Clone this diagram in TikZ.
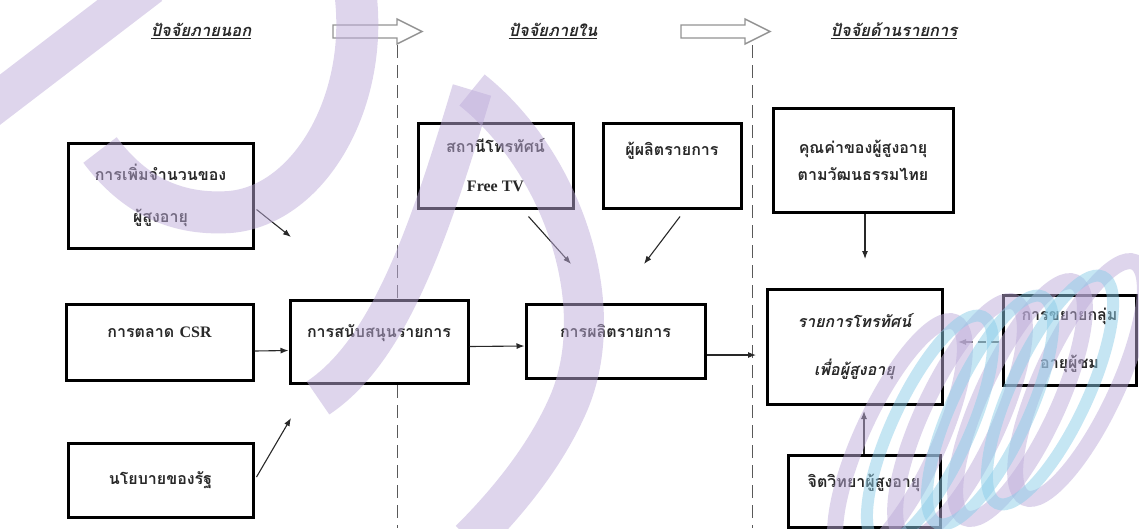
\documentclass[tikz,border=0pt]{standalone}
\usepackage{fontspec}
\newfontfamily\thaifont[Script=Thai]{Loma}
\newfontfamily\latinfont{Liberation Serif}
\usetikzlibrary{arrows.meta}
\definecolor{wmpurple}{RGB}{190,172,218}
\definecolor{wmcyan}{RGB}{140,205,232}
\definecolor{inkgray}{RGB}{40,40,40}

\begin{document}
\begin{tikzpicture}[x=1pt,y=-1pt,
    box/.style={draw=black,line width=3pt,fill=white,align=center,inner sep=0pt,
      font=\thaifont\bfseries\fontsize{16}{19}\selectfont,text=inkgray},
    lift/.style={text depth=#1},
    arr/.style={draw=inkgray,line width=1.1pt,-{Latex[length=8pt,width=6pt]}},
    head/.style={font=\thaifont\bfseries\itshape\fontsize{16.5}{19}\selectfont,text=inkgray},
    hollow/.style={draw=gray!85,line width=1.4pt,fill=white},
    divider/.style={draw=gray!70!black,line width=0.9pt,dash pattern=on 13pt off 7pt}]
    \useasboundingbox (0,0) rectangle (1139,528);

    % Column dividers
    \draw[divider] (397,45) -- (397,528);
    \draw[divider] (752,45) -- (752,528);

    % Headings
    \node[head] (hdOuter) at (201,31) {\underline{ปัจจัยภายนอก}};
    \node[head] (hdInner) at (553,31) {\underline{ปัจจัยภายใน}};
    \node[head] (hdShow) at (894,31) {\underline{ปัจจัยด้านรายการ}};
    \foreach \ax in {333,681}
        \draw[hollow] (\ax,25) -- ++(64,0) -- ++(0,-6) -- ++(25,12.5) -- ++(-25,12.5) -- ++(0,-6) -- ++(-64,0) -- cycle;

    % Outer factors
    \node[box,minimum width=185,minimum height=105] (incr) at (160.5,195.5) {การเพิ่มจำนวนของ\\[23pt]ผู้สูงอายุ};
    \node[box,minimum width=187,minimum height=76,lift=20pt] (csr) at (159.5,342) {การตลาด {\latinfont CSR}};
    \node[box,minimum width=185,minimum height=74] (policy) at (160.5,480) {นโยบายของรัฐ};

    % Inner factors
    \node[box,minimum width=178,minimum height=83,lift=20pt] (support) at (379,341.5) {การสนับสนุนรายการ};
    \node[box,minimum width=155,minimum height=85] (station) at (495.5,165.5) {สถานีโทรทัศน์\\[20pt]{\latinfont Free TV}};
    \node[box,minimum width=138,minimum height=85,lift=34pt] (maker) at (672,165.5) {ผู้ผลิตรายการ};
    \node[box,minimum width=179,minimum height=74,lift=20pt] (produce) at (615.5,341) {การผลิตรายการ};

    % Programme factors
    \node[box,minimum width=180,minimum height=104] (value) at (863,160) {คุณค่าของผู้สูงอายุ\\[8pt]ตามวัฒนธรรมไทย};
    \node[box,minimum width=175,minimum height=115,font=\thaifont\bfseries\itshape\fontsize{16}{19}\selectfont] (show) at (854.5,346.5) {รายการโทรทัศน์\\[29pt]เพื่อผู้สูงอายุ};
    \node[box,minimum width=133,minimum height=90] (extend) at (1069.5,340) {การขยายกลุ่ม\\[29pt]อายุผู้ชม};
    \node[box,minimum width=152,minimum height=72,lift=20pt] (psych) at (864,491) {จิตวิทยาผู้สูงอายุ};

    % Free arrow ends
    \coordinate (supTop) at (291,237);
    \coordinate (supBot) at (291,418);
    \coordinate (prodL) at (571,264);
    \coordinate (prodR) at (644,264);
    \coordinate (showIn) at (756,355);
    \coordinate (showTop) at (865,259);
    \coordinate (showBot) at (864,411);
    \coordinate (showR) at (958,342);

    % Connectors
    \draw[arr] ([shift={(2,14)}]incr.east) -- (supTop);
    \draw[arr] ([yshift=-9pt]csr.east) -- ([yshift=-9pt]support.west);
    \draw[arr] ([shift={(2,-3)}]policy.east) -- (supBot);
    \draw[arr] ([yshift=-5pt]support.east) -- ([yshift=-5pt]produce.west);
    \draw[arr] ([shift={(33,7)}]station.south) -- (prodL);
    \draw[arr] ([shift={(8,7)}]maker.south) -- (prodR);
    \draw[arr] ([yshift=-14pt]produce.east) -- (showIn);
    \draw[arr] ([xshift=2pt]value.south) -- (showTop);
    \draw[arr] (psych.north) -- (showBot);
    \draw[arr,draw=gray!80!black,dash pattern=on 8pt off 5pt] ([shift={(-3,2)}]extend.west) -- (showR);

    % Watermark
    \begin{scope}[opacity=0.5]
        \draw[wmpurple,line width=40pt] (-20,115) -- (150,-15);
        \draw[wmpurple,line width=42pt] (355,-10) .. controls (370,100) and (310,205) .. (230,212) .. controls (170,216) and (130,190) .. (100,150);
        \draw[wmpurple,line width=40pt] (472,90) .. controls (430,230) and (390,350) .. (318,398);
        \draw[wmpurple,line width=40pt] (472,90) .. controls (560,160) and (610,300) .. (570,400) .. controls (545,460) and (500,510) .. (470,540);
        \foreach \k in {0,...,3}
            \draw[wmpurple,line width=16pt,rotate around={-25:(900+60*\k,440-20*\k)}] (900+60*\k,440-20*\k) ellipse [x radius=38, y radius=130];
        \foreach \k in {0,...,2}
            \draw[wmcyan,line width=12pt,rotate around={-25:(930+60*\k,430-20*\k)}] (930+60*\k,430-20*\k) ellipse [x radius=38, y radius=125];
    \end{scope}
\end{tikzpicture}
\end{document}
